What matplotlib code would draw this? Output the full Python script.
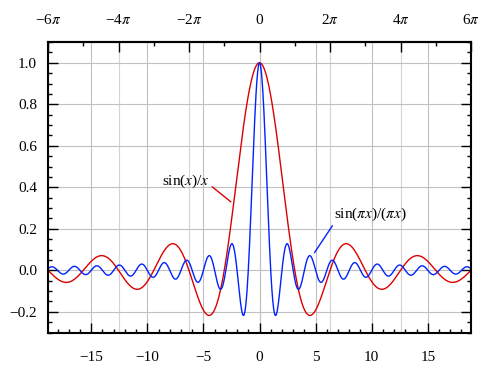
import numpy as np
import matplotlib
matplotlib.use("Agg")
from matplotlib import pyplot as plt
from matplotlib.ticker import MultipleLocator

plt.rcParams["font.family"] = ["Liberation Serif", "DejaVu Serif"]
plt.rcParams["mathtext.fontset"] = "stix"
plt.rcParams["font.size"] = 11

# the plotted curves are the two sinc functions named in the labels
x = np.linspace(-6 * np.pi, 6 * np.pi, 2000)
sinc_x = np.sinc(x / np.pi)      # sin(x)/x
sinc_pix = np.sinc(x)            # sin(pi x)/(pi x)

top_ticks = [-6, -4, -2, 0, 2, 4, 6]
top_labels = ["\u22126$\\pi$", "\u22124$\\pi$", "\u22122$\\pi$", "0",
              "2$\\pi$", "4$\\pi$", "6$\\pi$"]
bottom_ticks = [-15, -10, -5, 0, 5, 10, 15]
y_ticks = [-0.2, 0.0, 0.2, 0.4, 0.6, 0.8, 1.0]

fig = plt.figure(figsize=(5, 3.75), dpi=100)
ax = fig.add_axes([0.096, 0.113, 0.846, 0.775])

for t in top_ticks:
    ax.axvline(t * np.pi, color="#d4d4d4", lw=0.8, zorder=0)
for t in bottom_ticks:
    ax.axvline(t, color="#c0c0c0", lw=0.8, zorder=0)
for t in y_ticks:
    ax.axhline(t, color="#c0c0c0", lw=0.8, zorder=0)

ax.plot(x, sinc_x, color="#dd0000", lw=1.0)
ax.plot(x, sinc_pix, color="#0022ff", lw=1.0)

ax.set_xlim(-6 * np.pi, 6 * np.pi)
ax.set_ylim(-0.3, 1.1)

ax.xaxis.set_major_locator(MultipleLocator(5))
ax.xaxis.set_minor_locator(MultipleLocator(1))
ax.yaxis.set_major_locator(MultipleLocator(0.2))
ax.yaxis.set_minor_locator(MultipleLocator(0.05))
ax.set_xticks(bottom_ticks)
ax.set_xticklabels(["\u2212" + str(-t) if t < 0 else str(t) for t in bottom_ticks])
ax.set_yticks(y_ticks)
ax.set_yticklabels(["\u2212%.1f" % -t if t < 0 else "%.1f" % t for t in y_ticks])
ax.tick_params(which="both", direction="in", right=True, top=False,
               width=1.0, color="black")
ax.tick_params(which="major", length=7)
ax.tick_params(which="minor", length=3)
ax.tick_params(axis="x", which="major", pad=13)
ax.tick_params(axis="y", which="major", pad=8)

top = ax.secondary_xaxis("top", functions=(lambda v: v / np.pi, lambda v: v * np.pi))
top.set_xticks(top_ticks)
top.set_xticklabels(top_labels)
top.xaxis.set_minor_locator(MultipleLocator(1))
top.tick_params(which="both", direction="in", width=1.0)
top.tick_params(which="major", length=7, pad=11)
top.tick_params(which="minor", length=3)
top.spines["top"].set_linewidth(1.5)

for s in ax.spines.values():
    s.set_linewidth(1.5)

ax.annotate("sin($x$)/$x$", xy=(-2.55, 0.33), xytext=(-6.6, 0.43),
            ha="center", va="center", fontsize=11,
            arrowprops=dict(arrowstyle="-", color="#dd0000", lw=1.0,
                            shrinkA=0, shrinkB=0, relpos=(1.0, 0.3)))
ax.annotate("sin($\\pi x$)/($\\pi x$)", xy=(4.9, 0.085), xytext=(9.9, 0.27),
            ha="center", va="center", fontsize=11,
            arrowprops=dict(arrowstyle="-", color="#0022ff", lw=1.0,
                            shrinkA=0, shrinkB=0, relpos=(0.0, 0.0)))

fig.savefig("out.png", dpi=100)
